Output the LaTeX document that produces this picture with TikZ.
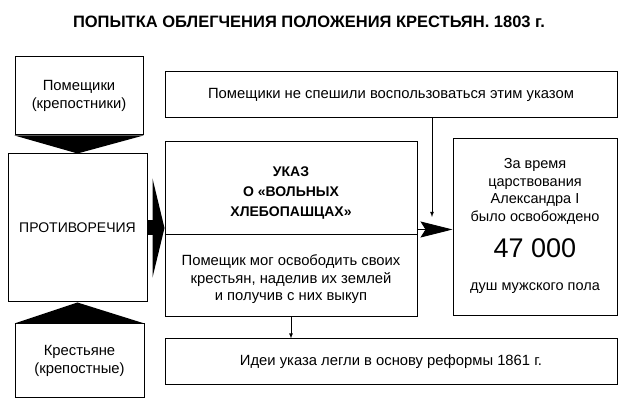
\documentclass[tikz,border=0pt]{standalone}
\usepackage{fontspec}
\setmainfont{Liberation Sans}
\usetikzlibrary{arrows.meta}
\newcommand{\txtsize}{\fontsize{14.8}{17.6}\selectfont}

\begin{document}
\begin{tikzpicture}[x=1pt,y=-1pt,
    box/.style={draw,line width=1pt,inner sep=0pt,align=center,font=\txtsize},
    lbl/.style={inner sep=0pt,align=center,font=\txtsize}]
                    \useasboundingbox (0,0) rectangle (630,411);

                    \node[lbl,font=\bfseries\fontsize{16.5}{19}\selectfont] (title) at (309,22) {ПОПЫТКА ОБЛЕГЧЕНИЯ ПОЛОЖЕНИЯ КРЕСТЬЯН. 1803 г.};

                    \node[box,minimum width=128pt,minimum height=78pt] (pom) at (79,96) {Помещики\\(крепостники)};
                    \node[box,minimum width=139pt,minimum height=148pt,font=\fontsize{14}{17}\selectfont] (prot) at (77.5,228) {ПРОТИВОРЕЧИЯ};
                    \node[box,minimum width=129pt,minimum height=74pt] (kres) at (79.5,361) {Крестьяне\\(крепостные)};

                    \fill (pom.south west) -- (pom.south east) -- (prot.north) -- cycle;
                    \fill (kres.north west) -- (kres.north east) -- (prot.south) -- cycle;

                    \node[box,minimum width=452pt,minimum height=46pt] (late) at (391,95) {Помещики не спешили воспользоваться этим указом};
                    \node[box,minimum width=252pt,minimum height=175pt] (ukaz) at (291,229.5) {};
                    \draw[line width=1pt] (ukaz.west |- 0,235) -- (ukaz.east |- 0,235);
                    \node[lbl,font=\bfseries\fontsize{14}{20}\selectfont] (ukazT) at (291,193) {УКАЗ\\О «ВОЛЬНЫХ\\ХЛЕБОПАШЦАХ»};
                    \node[lbl] (ukazB) at (291,279.5) {Помещик мог освободить своих\\крестьян, наделив их землей\\и получив с них выкуп};

                    \node[box,minimum width=164pt,minimum height=177pt] (freed) at (535,227.5) {};
                    \node[lbl,font=\fontsize{14.5}{17.7}\selectfont] (freedT) at (535,191.5) {За время\\царствования\\Александра I\\было освобождено};
                    \node[lbl,font=\fontsize{27}{30}\selectfont] (num) at (535,248) {47 000};
                    \node[lbl,font=\fontsize{14.5}{17.7}\selectfont] (souls) at (535,288) {душ мужского пола};

                    \node[box,minimum width=452pt,minimum height=46pt] (idea) at (391,362) {Идеи указа легли в основу реформы 1861 г.};

                    \draw[line width=15pt,-{Triangle[length=12pt,width=99pt]}] (prot.east) -- (prot.east -| ukaz.west);
                    \draw[line width=0.8pt,-{Stealth[length=32pt,width=16pt,inset=5pt]}] (ukaz.east) -- (ukaz.east -| freed.west);

                    \coordinate (down) at (432,217);
                    \draw[line width=0.8pt,-latex] (late.south -| down) -- (down);
                    \draw[line width=0.8pt,-latex] (ukaz.south) -- (ukaz.south |- idea.north);
                \end{tikzpicture}
\end{document}
